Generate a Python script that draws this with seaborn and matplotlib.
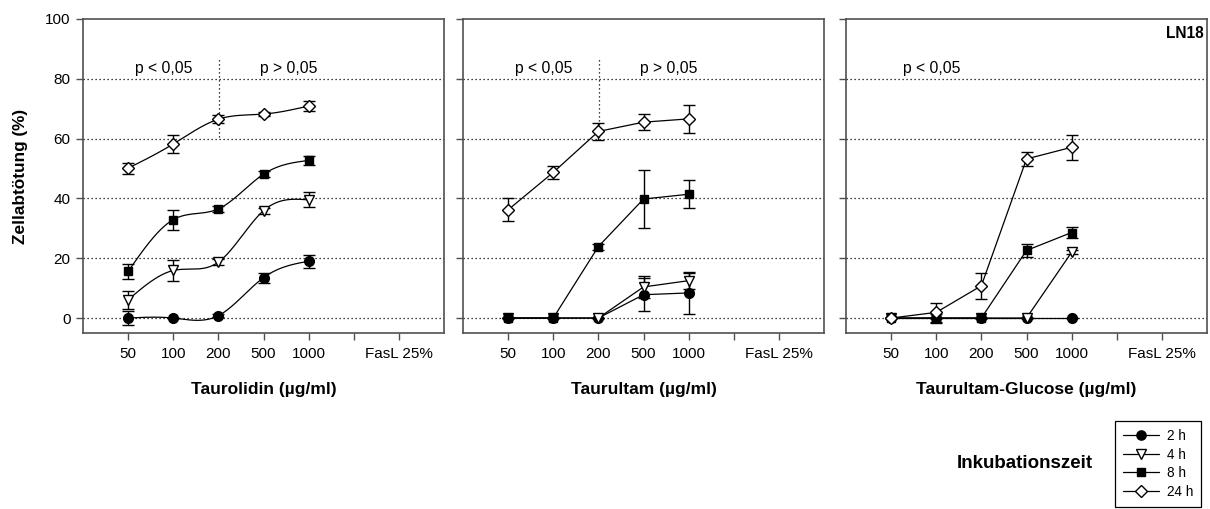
import numpy as np
import pandas as pd
import matplotlib
matplotlib.use("Agg")
import matplotlib.pyplot as plt
from matplotlib.lines import Line2D
import seaborn as sns

# ---------------- data ----------------
tick_labels = ["50", "100", "200", "500", "1000", "", "FasL 25%"]
series_names = ["2 h", "4 h", "8 h", "24 h"]

# Taurolidin
tauro_2h = [0.0, 0.0, 0.8, 13.5, 19.0]
tauro_2h_err = [2.3, 0.0, 0.6, 1.7, 2.2]
tauro_4h = [6.1, 15.9, 18.7, 35.9, 39.5]
tauro_4h_err = [3.1, 3.4, 1.0, 1.0, 2.5]
tauro_8h = [15.6, 32.9, 36.5, 48.1, 52.7]
tauro_8h_err = [2.5, 3.3, 1.0, 1.0, 1.6]
tauro_24h = [50.1, 58.2, 66.5, 68.2, 70.9]
tauro_24h_err = [1.8, 2.9, 1.3, 0.6, 1.6]

# Taurultam
tault_2h = [0.0, 0.0, 0.0, 7.8, 8.4]
tault_2h_err = [0.0, 0.0, 0.0, 5.6, 7.0]
tault_4h = [0.0, 0.0, 0.0, 10.4, 12.5]
tault_4h_err = [0.0, 0.0, 0.0, 3.7, 2.7]
tault_8h = [0.0, 0.0, 23.9, 39.8, 41.4]
tault_8h_err = [0.0, 0.0, 1.0, 9.7, 4.7]
tault_24h = [36.2, 48.7, 62.4, 65.5, 66.6]
tault_24h_err = [3.9, 2.3, 2.7, 2.7, 4.8]

# Taurultam-Glucose
tglc_2h = [0.0, 0.0, 0.0, 0.0, 0.0]
tglc_2h_err = [0.0, 0.0, 0.0, 0.0, 0.0]
tglc_4h = [0.0, 0.0, 0.0, 0.0, 22.0]
tglc_4h_err = [0.0, 0.0, 0.0, 0.0, 0.6]
tglc_8h = [0.0, 0.0, 0.0, 22.6, 28.6]
tglc_8h_err = [0.0, 1.5, 0.0, 2.2, 1.7]
tglc_24h = [0.0, 1.9, 10.8, 53.2, 57.1]
tglc_24h_err = [0.0, 3.1, 4.3, 2.4, 4.2]

panel_titles = ["Taurolidin (µg/ml)", "Taurultam (µg/ml)", "Taurultam-Glucose (µg/ml)"]
panel_values = [
    [tauro_2h, tauro_4h, tauro_8h, tauro_24h],
    [tault_2h, tault_4h, tault_8h, tault_24h],
    [tglc_2h, tglc_4h, tglc_8h, tglc_24h],
]
panel_errors = [
    [tauro_2h_err, tauro_4h_err, tauro_8h_err, tauro_24h_err],
    [tault_2h_err, tault_4h_err, tault_8h_err, tault_24h_err],
    [tglc_2h_err, tglc_4h_err, tglc_8h_err, tglc_24h_err],
]
panel_smooth = [True, False, False]
p_texts = [
    [("p < 0,05", 1.78), ("p > 0,05", 4.55)],
    [("p < 0,05", 1.78), ("p > 0,05", 4.56)],
    [("p < 0,05", 1.90)],
]
p_divider = [True, True, False]

# ---------------- style ----------------
sns.set_theme(style="white")
plt.rcParams["font.family"] = ["Liberation Sans", "DejaVu Sans"]
plt.rcParams["text.color"] = "black"
plt.rcParams["axes.labelcolor"] = "black"
plt.rcParams["xtick.color"] = "black"
plt.rcParams["ytick.color"] = "black"

marker_styles = {
    "2 h": dict(marker="o", mfc="black", ms=7.0),
    "4 h": dict(marker="v", mfc="white", ms=7.5),
    "8 h": dict(marker="s", mfc="black", ms=6.0),
    "24 h": dict(marker="D", mfc="white", ms=6.5),
}


def natural_spline(x, y, n=200):
    x = np.asarray(x, float)
    y = np.asarray(y, float)
    k = len(x)
    h = np.diff(x)
    A = np.zeros((k, k))
    b = np.zeros(k)
    A[0, 0] = 1
    A[-1, -1] = 1
    for i in range(1, k - 1):
        A[i, i - 1] = h[i - 1]
        A[i, i] = 2 * (h[i - 1] + h[i])
        A[i, i + 1] = h[i]
        b[i] = 6 * ((y[i + 1] - y[i]) / h[i] - (y[i] - y[i - 1]) / h[i - 1])
    M = np.linalg.solve(A, b)
    xs = np.linspace(x[0], x[-1], n)
    ys = np.empty_like(xs)
    for j, xv in enumerate(xs):
        i = min(np.searchsorted(x, xv, side="right") - 1, k - 2)
        t1 = x[i + 1] - xv
        t0 = xv - x[i]
        ys[j] = (M[i] * t1 ** 3 / (6 * h[i]) + M[i + 1] * t0 ** 3 / (6 * h[i])
                 + (y[i] / h[i] - M[i] * h[i] / 6) * t1
                 + (y[i + 1] / h[i] - M[i + 1] * h[i] / 6) * t0)
    return xs, ys


fig = plt.figure(figsize=(12.10, 5.09), dpi=100)
W, H = 1210, 509
lefts = [83, 463, 846]
ax_w = 361
top, bottom = 19, 333

xpos = np.arange(1, 6)
spine_col = "#505050"

for p in range(3):
    ax = fig.add_axes([lefts[p] / W, 1 - bottom / H, ax_w / W, (bottom - top) / H])
    ax.set_xlim(0, 8)
    ax.set_ylim(-5, 100)
    for gy in [0, 20, 40, 60, 80]:
        ax.axhline(gy, color="black", lw=0.9, ls=(0, (1, 2.2)), zorder=0)

    for s, name in enumerate(series_names):
        yv = panel_values[p][s]
        ev = panel_errors[p][s]
        st = marker_styles[name]
        ax.errorbar(xpos, yv, yerr=ev, fmt="none", ecolor="black", elinewidth=1.0,
                    capsize=4.5, capthick=1.0, zorder=2 + s)
        if panel_smooth[p]:
            xs, ys = natural_spline(xpos, yv)
            sns.lineplot(x=xs, y=ys, ax=ax, color="black", lw=0.9, zorder=2 + s,
                         estimator=None, sort=False)
            sns.lineplot(x=xpos, y=yv, ax=ax, color="black", lw=0, marker=st["marker"],
                         markerfacecolor=st["mfc"], markeredgecolor="black",
                         markeredgewidth=1.0, markersize=st["ms"], zorder=3 + s,
                         estimator=None)
        else:
            sns.lineplot(x=xpos, y=yv, ax=ax, color="black", lw=0.9, marker=st["marker"],
                         markerfacecolor=st["mfc"], markeredgecolor="black",
                         markeredgewidth=1.0, markersize=st["ms"], zorder=3 + s,
                         estimator=None)

    for txt, xp in p_texts[p]:
        ax.text(xp, 83.5, txt, ha="center", va="center", fontsize=11.3, color="black")
    if p_divider[p]:
        ax.plot([3.02, 3.02], [60.5, 87.0], color="black", lw=0.9, ls=(0, (1, 2.2)), zorder=1)

    ax.set_xticks(np.arange(1, 8))
    ax.set_xticklabels(tick_labels, fontsize=11)
    ax.set_yticks([0, 20, 40, 60, 80, 100])
    if p == 0:
        ax.set_yticklabels(["0", "20", "40", "60", "80", "100"], fontsize=11)
        ax.set_ylabel("Zellabtötung (%)", fontsize=12.4, fontweight="bold", labelpad=12)
    else:
        ax.set_yticklabels([])
    ax.tick_params(axis="both", direction="out", length=5, width=1.0, color=spine_col,
                   labelcolor="black", bottom=True, left=True, pad=4)
    ax.tick_params(axis="x", pad=5)
    ax.set_xlabel(panel_titles[p], fontsize=12.5, fontweight="bold", labelpad=15)
    for sp in ax.spines.values():
        sp.set_visible(True)
        sp.set_color(spine_col)
        sp.set_linewidth(1.2)
    if p == 2:
        ax.text(0.99, 0.955, "LN18", transform=ax.transAxes, ha="right", va="center",
                fontsize=11.2, fontweight="bold", color="black")

handles = []
for name in series_names:
    st = marker_styles[name]
    handles.append(Line2D([0], [0], color="black", lw=0.9, marker=st["marker"],
                          markerfacecolor=st["mfc"], markeredgecolor="black",
                          markersize=st["ms"] * 0.95))
leg = fig.legend(handles, series_names, loc="upper left",
                 bbox_to_anchor=(1115 / W, 1 - 421 / H), fontsize=9.8,
                 frameon=True, fancybox=False, edgecolor="black", framealpha=1,
                 handlelength=2.6, labelspacing=0.33, borderpad=0.6, handletextpad=0.6,
                 borderaxespad=0)
leg.get_frame().set_linewidth(0.9)
for t in leg.get_texts():
    t.set_color("black")
fig.text(1025 / W, 1 - 464 / H, "Inkubationszeit", ha="center", va="center",
         fontsize=13.5, fontweight="bold", color="black")

fig.savefig("out.png", dpi=100)
